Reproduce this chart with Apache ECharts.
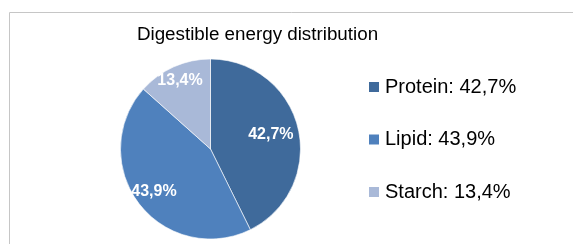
<!DOCTYPE html>
<html><head><meta charset="utf-8">
<script src="https://cdn.jsdelivr.net/npm/echarts@6/dist/echarts.min.js"></script>
<style>html,body{margin:0;padding:0;background:#fff}#c{width:573px;height:244px}</style>
</head><body><div id="c"></div>
<script>
const titleText = 'Digestible energy distribution';
const categories = ['Protein', 'Lipid', 'Starch'];
const values = [42.7, 43.9, 13.4];
const colors = ['#3F6A9B', '#4F81BD', '#A9B9D8'];

const fmt = v => v.toFixed(1).replace('.', ',') + '%';
const FONT = 'Liberation Sans';
const CX = 210.5, CY = 149, R = 90;

const data = categories.map((c, i) => ({ name: c, value: values[i], itemStyle: { color: colors[i] } }));
// label rings: one transparent overlay per slice so each label sits at its own distance
const labelInner = [28, 46, 53];
const labelSeries = categories.map((c, k) => ({
  type: 'pie', center: [CX, CY], radius: [labelInner[k], R], startAngle: 90, clockwise: true, silent: true,
  data: categories.map((n, i) => ({ name: n, value: values[i], label: { show: i === k } })),
  itemStyle: { color: 'rgba(0,0,0,0)' },
  label: { position: 'inside', formatter: p => fmt(p.value), color: '#fff', fontWeight: 'bold', fontFamily: FONT, fontSize: 16 },
  labelLine: { show: false }, emphasis: { disabled: true }, legendHoverLink: false
}));

const chart = echarts.init(document.getElementById('c'), null, { renderer: 'canvas' });
chart.setOption({
  animation: false,
  graphic: [
    { type: 'rect', shape: { x: 9.5, y: 12.5, width: 700, height: 400 }, style: { fill: 'none', stroke: '#C6C6C6', lineWidth: 1 }, silent: true },
    { type: 'text', x: 257.5, y: 35, style: { text: titleText, font: '18.8px "' + FONT + '"', fill: '#000', textAlign: 'center', textVerticalAlign: 'middle' } }
  ],
  legend: {
    orient: 'vertical', left: 367, top: 76, padding: 0,
    itemWidth: 12, itemHeight: 12, itemGap: 30.5, icon: 'rect',
    data: categories,
    formatter: name => name + ': ' + fmt(values[categories.indexOf(name)]),
    textStyle: { fontFamily: FONT, fontSize: 20, color: '#000', lineHeight: 22 }
  },
  series: [
    {
      type: 'pie', center: [CX, CY], radius: R, startAngle: 90, clockwise: true,
      data: data, label: { show: false }, labelLine: { show: false },
      itemStyle: { borderColor: '#ffffff', borderWidth: 0.6 }, emphasis: { disabled: true }
    }
  ].concat(labelSeries)
});
</script></body></html>
